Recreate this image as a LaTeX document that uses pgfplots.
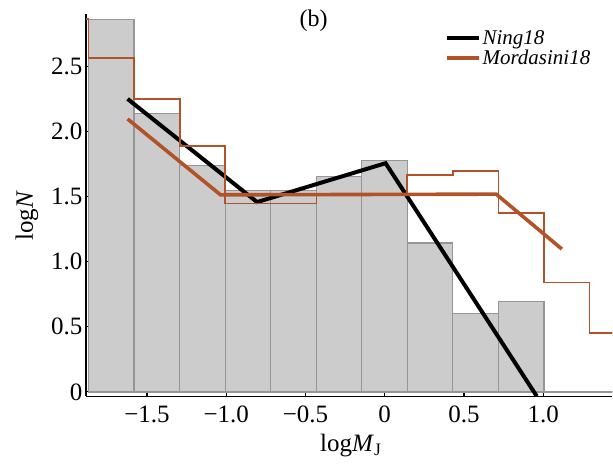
\documentclass[border=0pt]{standalone}
\usepackage{fontspec}
\setmainfont{Liberation Serif}
\usepackage{pgfplots}
\pgfplotsset{compat=1.18}
\definecolor{mordasini}{RGB}{178,82,40}
\definecolor{barfill}{RGB}{204,204,204}
\definecolor{baredge}{RGB}{150,150,150}
\begin{document}
\begin{tikzpicture}
\begin{axis}[
  at={(0,0)}, anchor=south west,
  scale only axis, width=527pt, height=382.7pt,
  xmin=-1.885, xmax=1.437, ymin=-0.034, ymax=2.905,
  clip mode=individual,
  axis x line*=bottom, axis y line*=left,
  axis line style={line width=1.2pt, -},
  tick align=inside, major tick length=8pt,
  tick style={line width=1.2pt, black},
  xtick={-1.5,-1,-0.5,0,0.5,1},
  xticklabels={−1.5,−1.0,−0.5,0,0.5,1.0},
  ytick={0,0.5,1,1.5,2,2.5},
  yticklabels={0,0.5,1.0,1.5,2.0,2.5},
  tick label style={font=\fontsize{25}{30}\selectfont},
  xticklabel style={yshift=-6pt},
  xlabel={log\textit{M}\textsubscript{J}},
  ylabel={log\textit{N}},
  label style={font=\fontsize{25}{30}\selectfont},
  xlabel style={at={(axis description cs:0.503,-0.1445)}, anchor=base},
  ylabel style={at={(axis description cs:-0.1006,0.472)}, anchor=base},
  legend style={draw=none, fill=none, at={(axis description cs:0.681,0.963)},
    anchor=north west, font=\fontsize{21}{25}\selectfont, inner sep=0pt},
  legend cell align=left,
  legend image code/.code={\draw[#1] (0pt,0pt) -- (32pt,0pt);},
]
% observed histogram (left bin edges, last point closes the final bin)
\addplot[ybar interval, fill=barfill, draw=baredge, line width=1.3pt, forget plot]
  coordinates {(-1.868,2.864) (-1.581,2.142) (-1.293,1.740) (-1.006,1.548)
               (-0.719,1.548) (-0.431,1.655) (-0.144,1.778) (0.143,1.144)
               (0.430,0.601) (0.718,0.696) (1.005,0) (1.292,0) (1.580,0)};
% Ning18 fit
\addplot[black, line width=4pt] coordinates {(-1.622,2.252) (-0.805,1.459) (0.006,1.758) (0.960,-0.034)};
\addlegendentry{\textit{Ning18}}
% Mordasini18 fit
\addplot[mordasini, line width=3.6pt] coordinates {(-1.622,2.098) (-1.036,1.515) (0.704,1.520) (1.118,1.098)};
\addlegendentry{\textit{Mordasini18}}
% Mordasini18 synthetic histogram
\addplot[mordasini, line width=1.7pt, const plot, forget plot]
  coordinates {(-1.885,2.864) (-1.868,2.567) (-1.581,2.252) (-1.293,1.891)
               (-1.006,1.448) (-0.719,1.448) (-0.431,1.520) (-0.144,1.520)
               (0.143,1.668) (0.430,1.699) (0.718,1.374) (1.005,0.842)
               (1.292,0.453) (1.600,0.453)};
\end{axis}
\node[font=\fontsize{24}{29}\selectfont, anchor=base] at (228pt,369.7pt) {(b)};
\path (-86pt,-67.3pt) rectangle (527pt,396.7pt);
\end{tikzpicture}
\end{document}
